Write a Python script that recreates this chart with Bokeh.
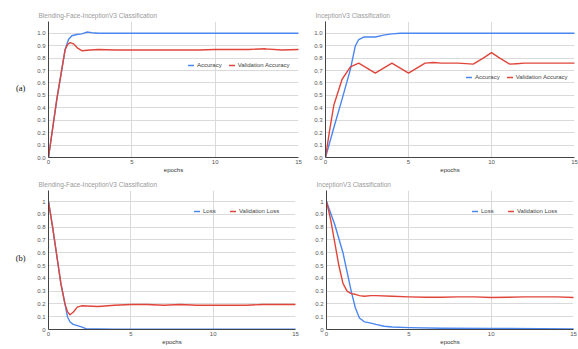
from bokeh.plotting import figure
from bokeh.layouts import column, row
from bokeh.models import Legend, LegendItem, FixedTicker, Range1d, ColumnDataSource
from bokeh.core.properties import value
from bokeh.embed import file_html
from bokeh.resources import INLINE

# ---------------- data ----------------
x_ticks = [0, 5, 10, 15]
acc_ticks = [0.0, 0.1, 0.2, 0.3, 0.4, 0.5, 0.6, 0.7, 0.8, 0.9, 1.0]
acc_tick_labels = ["0.0", "0.1", "0.2", "0.3", "0.4", "0.5", "0.6", "0.7", "0.8", "0.9", "1.0"]
loss_tick_labels = ["0", "0.1", "0.2", "0.3", "0.4", "0.5", "0.6", "0.7", "0.8", "0.9", "1"]

# (a) Blending-Face-InceptionV3 accuracy
bf_acc_epochs = [0, 0.5, 1.0, 1.2, 1.4, 1.7, 2.0, 2.3, 2.6, 3.0, 4, 5, 6, 7, 8, 9, 10, 11, 12, 13, 14, 15]
bf_acc = [0.0, 0.47, 0.87, 0.95, 0.98, 0.99, 0.995, 1.01, 1.005, 1.0, 1.0, 1.0, 1.0, 1.0, 1.0, 1.0, 1.0, 1.0, 1.0, 1.0, 1.0, 1.0]
bf_val_acc_epochs = [0, 0.5, 1.0, 1.15, 1.3, 1.5, 1.75, 2.0, 2.5, 3.0, 4, 5, 6, 7, 8, 9, 10, 11, 12, 13, 14, 15]
bf_val_acc = [0.0, 0.47, 0.87, 0.91, 0.925, 0.915, 0.88, 0.86, 0.865, 0.87, 0.865, 0.865, 0.865, 0.865, 0.865, 0.865, 0.87, 0.87, 0.87, 0.875, 0.865, 0.87]

# (a) InceptionV3 accuracy
iv_acc_epochs = [0, 0.5, 1.0, 1.5, 1.8, 2.0, 2.3, 2.6, 3.0, 3.5, 4.0, 4.5, 5, 6, 7, 8, 9, 10, 11, 12, 13, 14, 15]
iv_acc = [0.0, 0.24, 0.47, 0.71, 0.9, 0.95, 0.97, 0.97, 0.97, 0.985, 0.995, 1.0, 1.0, 1.0, 1.0, 1.0, 1.0, 1.0, 1.0, 1.0, 1.0, 1.0, 1.0]
iv_val_acc_epochs = [0, 0.25, 0.5, 1.0, 1.5, 2.0, 2.5, 3.0, 3.5, 4.0, 4.5, 5.0, 5.5, 6.0, 6.5, 7, 8, 8.9, 9.5, 10, 10.5, 11.1, 11.5, 12, 13, 14, 15]
iv_val_acc = [0.0, 0.22, 0.42, 0.63, 0.73, 0.76, 0.72, 0.68, 0.72, 0.76, 0.72, 0.68, 0.72, 0.76, 0.765, 0.76, 0.76, 0.752, 0.8, 0.844, 0.8, 0.752, 0.755, 0.76, 0.76, 0.76, 0.76]

# (b) Blending-Face-InceptionV3 loss
bf_loss_epochs = [0, 0.25, 0.5, 0.75, 1.0, 1.15, 1.3, 1.5, 1.75, 2.0, 2.3, 3, 4, 5, 6, 7, 8, 9, 10, 11, 12, 13, 14, 15]
bf_loss = [1.0, 0.8, 0.58, 0.36, 0.2, 0.1, 0.06, 0.04, 0.03, 0.02, 0.005, 0.005, 0.003, 0.003, 0.003, 0.003, 0.003, 0.003, 0.003, 0.003, 0.003, 0.003, 0.003, 0.003]
bf_val_loss_epochs = [0, 0.25, 0.5, 0.75, 1.0, 1.15, 1.3, 1.5, 1.75, 2.0, 3, 4, 5, 6, 7, 8, 9, 10, 11, 12, 13, 14, 15]
bf_val_loss = [1.0, 0.8, 0.58, 0.36, 0.2, 0.14, 0.115, 0.135, 0.175, 0.185, 0.18, 0.19, 0.195, 0.195, 0.19, 0.195, 0.19, 0.19, 0.19, 0.19, 0.195, 0.195, 0.195]

# (b) InceptionV3 loss
iv_loss_epochs = [0, 0.5, 1.0, 1.5, 1.75, 2.0, 2.3, 2.7, 3.0, 3.5, 4, 5, 7, 10, 15]
iv_loss = [1.0, 0.82, 0.6, 0.3, 0.17, 0.09, 0.06, 0.05, 0.04, 0.025, 0.02, 0.015, 0.01, 0.008, 0.005]
iv_val_loss_epochs = [0, 0.25, 0.5, 0.75, 1.0, 1.25, 1.5, 1.75, 2.0, 2.3, 2.7, 3, 4, 5, 6, 7, 8, 9, 10, 11, 12, 13, 14, 15]
iv_val_loss = [1.0, 0.86, 0.68, 0.5, 0.36, 0.3, 0.28, 0.275, 0.265, 0.26, 0.265, 0.265, 0.26, 0.255, 0.252, 0.252, 0.255, 0.255, 0.25, 0.252, 0.255, 0.255, 0.255, 0.25]

BLUE = "#4a86f0"
RED = "#e0453a"
FONT = "Liberation Sans"


def make_plot(title, width, height, ymax, tick_labels, series, names, legend_loc,
              border_left, border_right, border_top, border_bottom):
    p = figure(width=width, height=height, output_backend="svg", toolbar_location=None,
               x_range=Range1d(0, 15), y_range=Range1d(0, ymax),
               min_border_left=border_left, min_border_right=border_right,
               min_border_top=border_top, min_border_bottom=border_bottom)
    p.title.text = title
    p.title.text_font = FONT
    p.title.text_font_size = "6.5px"
    p.title.text_font_style = "normal"
    p.title.text_color = "#9a9a9a"
    p.title.offset = -10
    p.title.standoff = 5
    p.outline_line_color = None
    p.background_fill_color = "white"

    p.xaxis.ticker = FixedTicker(ticks=x_ticks)
    p.yaxis.ticker = FixedTicker(ticks=acc_ticks)
    p.yaxis.major_label_overrides = {t: l for t, l in zip(acc_ticks, tick_labels)}
    p.xaxis.axis_label = "epochs"
    p.xaxis.axis_label_text_font = FONT
    p.xaxis.axis_label_text_font_size = "6px"
    p.xaxis.axis_label_text_font_style = "normal"
    p.xaxis.axis_label_text_color = "#333333"
    p.xaxis.axis_label_standoff = 0
    for ax in (p.xaxis, p.yaxis):
        ax.major_label_text_font = FONT
        ax.major_label_text_font_size = "6px"
        ax.major_label_text_color = "#555555"
        ax.major_tick_line_color = None
        ax.minor_tick_line_color = None
        ax.major_tick_out = 0
        ax.major_tick_in = 0
        ax.minor_tick_out = 0
        ax.minor_tick_in = 0
        ax.axis_line_color = "#444444"
        ax.axis_line_width = 1
        ax.major_label_standoff = 3
    p.xaxis.major_label_standoff = 2

    p.xgrid.ticker = FixedTicker(ticks=[5, 10, 15])
    p.ygrid.ticker = FixedTicker(ticks=acc_ticks[1:])
    p.xgrid.grid_line_color = "#dadada"
    p.ygrid.grid_line_color = "#dadada"

    items = []
    for (xs, ys, color), name in zip(series, names):
        src = ColumnDataSource(dict(x=xs, y=ys))
        r = p.line("x", "y", source=src, line_color=color, line_width=1.4,
                   line_join="round", line_cap="round")
        items.append(LegendItem(label=name, renderers=[r]))
    legend = Legend(items=items, orientation="horizontal", location=legend_loc,
                    border_line_color=None, background_fill_alpha=0,
                    label_text_font=FONT, label_text_font_size="6px",
                    label_text_color="#444444", glyph_width=6, glyph_height=6,
                    label_standoff=3, spacing=7, padding=0, margin=0,
                    label_height=7)
    p.add_layout(legend)
    return p


def make_label(text, width, height, ypos):
    p = figure(width=width, height=height, output_backend="svg", toolbar_location=None,
               x_range=Range1d(0, 1), y_range=Range1d(0, 1),
               min_border=0)
    p.axis.visible = False
    p.grid.visible = False
    p.outline_line_color = None
    src = ColumnDataSource(dict(x=[0.67], y=[ypos], t=[text]))
    p.text("x", "y", text="t", source=src, text_font=value("Liberation Serif"),
           text_font_size="8.5px", text_align="center", text_baseline="middle",
           text_color="#111111")
    return p


top_h = 175
bot_h = 174

p1 = make_plot("Blending-Face-InceptionV3 Classification", 272, top_h, 1.095, acc_tick_labels,
               [(bf_acc_epochs, bf_acc, BLUE), (bf_val_acc_epochs, bf_val_acc, RED)],
               ["Accuracy", "Validation Accuracy"], (140, 89), 18, 4, 21, 16)
p2 = make_plot("InceptionV3 Classification", 276, top_h, 1.095, acc_tick_labels,
               [(iv_acc_epochs, iv_acc, BLUE), (iv_val_acc_epochs, iv_val_acc, RED)],
               ["Accuracy", "Validation Accuracy"], (141, 77), 23, 4, 21, 16)
p3 = make_plot("Blending-Face-InceptionV3 Classification", 272, bot_h, 1.086, loss_tick_labels,
               [(bf_loss_epochs, bf_loss, BLUE), (bf_val_loss_epochs, bf_val_loss, RED)],
               ["Loss", "Validation Loss"], (146, 115), 18, 7, 15, 20)
p4 = make_plot("InceptionV3 Classification", 276, bot_h, 1.086, loss_tick_labels,
               [(iv_loss_epochs, iv_loss, BLUE), (iv_val_loss_epochs, iv_val_loss, RED)],
               ["Loss", "Validation Loss"], (146, 115), 24, 5, 15, 20)

la = make_label("(a)", 30, top_h, 0.51)
lb = make_label("(b)", 30, bot_h, 0.517)

layout = column(row(la, p1, p2, spacing=0), row(lb, p3, p4, spacing=0), spacing=0)

open("out.html", "w").write(file_html(layout, INLINE))
